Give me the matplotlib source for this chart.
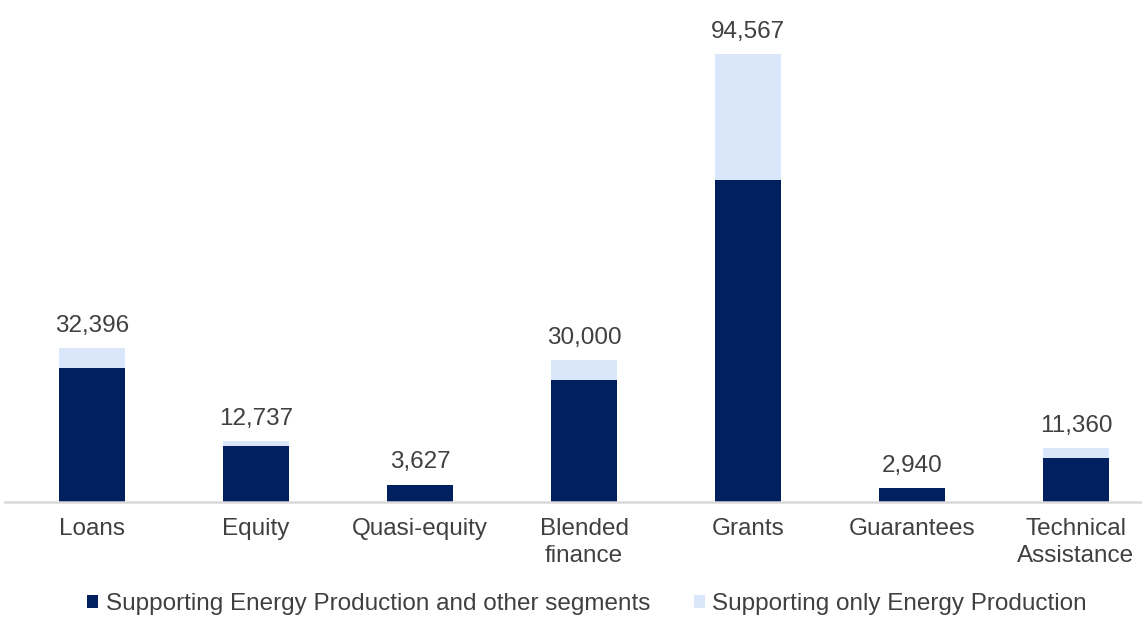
import matplotlib.pyplot as plt
from matplotlib.patches import Patch
import numpy as np

plt.rcParams['font.family'] = ['Liberation Sans', 'DejaVu Sans']

categories = ['Loans', 'Equity', 'Quasi-equity', 'Blended\nfinance', 'Grants',
              'Guarantees', 'Technical\nAssistance']
other_segments = [28175, 11764, 3627, 25703, 68006, 2840, 9166]
only_energy = [4221, 973, 0, 4297, 26561, 100, 2194]
totals = [32396, 12737, 3627, 30000, 94567, 2940, 11360]

series_names = ['Supporting Energy Production and other segments',
                'Supporting only Energy Production']
dark = '#002060'
light = '#DAE7FA'
text_col = '#404040'
fs = 17.5

fig = plt.figure(figsize=(11.42, 6.2), dpi=100)
ax = fig.add_axes([5 / 1142, (620 - 501.7) / 620, 1 - 5 / 1142, 501.7 / 620])

x = np.arange(len(categories))
w = 0.40
ax.bar(x, other_segments, width=w, color=dark, zorder=2)
ax.bar(x, only_energy, width=w, bottom=other_segments, color=light, zorder=2)

for xi, t in zip(x, totals):
    ax.annotate(f'{t:,}', (xi, t), xytext=(0, 8), textcoords='offset points',
                ha='center', va='bottom', fontsize=fs, color=text_col)

ax.set_xlim((5 - 92) / 164, (1142 - 92) / 164)
ax.set_ylim(0, 501.7 * 211.2)
ax.set_xticks(x)
ax.set_xticklabels(categories, fontsize=fs, color=text_col, linespacing=1.3)
ax.tick_params(axis='x', length=0, pad=12)
ax.set_yticks([])
for s in ['top', 'right', 'left']:
    ax.spines[s].set_visible(False)
ax.spines['bottom'].set_color('#d9d9d9')
ax.spines['bottom'].set_linewidth(1.8)

handles = [Patch(facecolor=dark), Patch(facecolor=light)]
fig.legend(handles, series_names, loc='center', bbox_to_anchor=(0.514, 0.026),
           ncol=2, frameon=False, fontsize=fs, handlelength=0.45,
           handleheight=0.45, handletextpad=0.3, columnspacing=1.8,
           labelcolor=text_col, borderpad=0.1)

fig.savefig('out.png', dpi=100)
